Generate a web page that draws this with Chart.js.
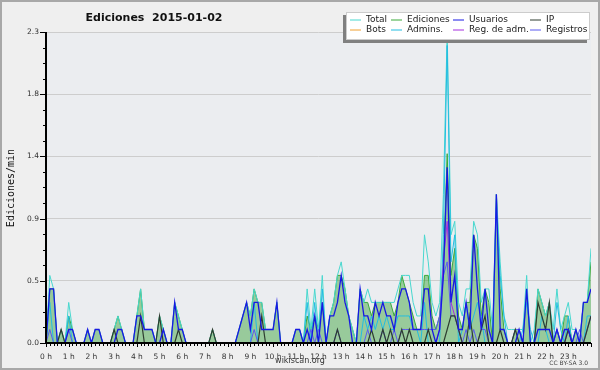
<!DOCTYPE html>
<html>
<head>
<meta charset="utf-8">
<style>
  html, body { margin: 0; padding: 0; background: #efefef; }
  canvas { display: block; }
</style>
<script src="https://cdn.jsdelivr.net/npm/chart.js@4.4.1/dist/chart.umd.min.js"></script>
</head>
<body>
<canvas id="chartEdits" width="600" height="370"></canvas>
<script>
// 10-minute slots over the day, 0 = 00:00 ... 144 = 24:00
const slots = Array.from({ length: 145 }, (_, i) => i);
const hourLabels = ["0 h", "1 h", "2 h", "3 h", "4 h", "5 h", "6 h", "7 h", "8 h", "9 h", "10 h", "11 h",
    "12 h", "13 h", "14 h", "15 h", "16 h", "17 h", "18 h", "19 h", "20 h", "21 h", "22 h", "23 h"];
const yTickValues = [0, 0.46, 0.92, 1.38, 1.84, 2.3];
const yTickLabels = ["0.0", "0.5", "0.9", "1.4", "1.8", "2.3"];

// edits per minute, one row = two hours
const total = [
    0, .5, .4, 0, .1, 0, .3, .1, 0, 0, 0, .1,
    0, .1, .1, 0, 0, 0, .1, .2, .1, 0, 0, 0,
    .2, .4, .1, .1, .1, 0, .2, .1, 0, 0, .3, .2,
    .1, 0, 0, 0, 0, 0, 0, 0, .1, 0, 0, 0,
    0, 0, 0, .1, .2, .3, .2, .4, .3, .3, .1, .1,
    .1, .3, 0, 0, 0, 0, .1, .1, 0, .4, .1, .4,
    .1, .5, 0, .2, .3, .5, .6, .4, .2, .1, 0, .4,
    .3, .4, .3, .3, .3, .3, .3, .3, .3, .4, .5, .5,
    .5, .3, .2, .2, .8, .6, .3, .2, .3, 1.1, 2.3, .8,
    .9, .3, .2, .4, .4, .9, .8, .3, .4, .4, .1, 1.1,
    .6, .2, .1, .1, .1, .1, .1, .5, 0, .1, .4, .3,
    .2, .3, .1, .4, .1, .2, .3, .1, .1, 0, .3, .3,
    .7
];
const edits = [
    0, .4, .4, 0, .1, 0, .2, .1, 0, 0, 0, .1,
    0, .1, .1, 0, 0, 0, .1, .2, .1, 0, 0, 0,
    .2, .4, .1, .1, .1, 0, .2, .1, 0, 0, .3, .2,
    .1, 0, 0, 0, 0, 0, 0, 0, .1, 0, 0, 0,
    0, 0, 0, .1, .2, .3, .2, .4, .3, .3, .1, .1,
    .1, .3, 0, 0, 0, 0, .1, .1, 0, .2, .1, .2,
    .1, .3, 0, .2, .3, .5, .5, .4, .2, .1, 0, .4,
    .3, .3, .2, .3, .3, .3, .3, .3, .2, .3, .5, .4,
    .3, .2, .1, .1, .5, .5, .2, .1, .2, .6, 1.4, .5,
    .7, .2, .1, .3, .3, .8, .7, .2, .4, .3, 0, 1.1,
    .4, .1, 0, 0, .1, .1, 0, .4, 0, 0, .4, .3,
    .2, .3, 0, .1, 0, .2, .2, 0, .1, 0, .3, .3,
    .6
];
const users = [
    0, .4, .4, 0, 0, 0, .1, .1, 0, 0, 0, .1,
    0, .1, .1, 0, 0, 0, 0, .1, .1, 0, 0, 0,
    .2, .2, .1, .1, .1, 0, 0, .1, 0, 0, .3, .1,
    .1, 0, 0, 0, 0, 0, 0, 0, 0, 0, 0, 0,
    0, 0, 0, .1, .2, .3, .1, .3, .3, .1, .1, .1,
    .1, .3, 0, 0, 0, 0, .1, .1, 0, .1, 0, .2,
    0, .3, 0, .2, .2, .3, .5, .3, .2, 0, 0, .4,
    .2, .2, .1, .3, .2, .3, .2, .2, .1, .3, .4, .4,
    .3, .1, .1, .1, .4, .4, .1, 0, .1, .5, 1.3, .3,
    .5, .1, .1, .3, .1, .8, .4, .1, .4, .1, 0, 1.1,
    .1, .1, 0, 0, 0, .1, 0, .4, 0, 0, .1, .1,
    .1, .1, 0, .1, 0, .1, .1, 0, .1, 0, .3, .3,
    .4
];
const ip = [
    0, 0, 0, 0, .1, 0, 0, 0, 0, 0, 0, 0,
    0, 0, 0, 0, 0, 0, .1, 0, 0, 0, 0, 0,
    0, .2, 0, 0, 0, 0, .2, 0, 0, 0, 0, .1,
    0, 0, 0, 0, 0, 0, 0, 0, .1, 0, 0, 0,
    0, 0, 0, 0, 0, 0, 0, 0, 0, .2, 0, 0,
    0, 0, 0, 0, 0, 0, 0, 0, 0, 0, 0, 0,
    0, 0, 0, 0, 0, .1, 0, 0, 0, 0, 0, 0,
    0, 0, .1, 0, 0, .1, 0, .1, 0, 0, .1, 0,
    .1, 0, 0, 0, 0, .1, 0, 0, 0, 0, .1, .2,
    .2, .1, 0, 0, .2, 0, 0, .1, .2, 0, 0, 0,
    .1, 0, 0, 0, .1, 0, 0, 0, 0, 0, .3, .2,
    .1, .3, 0, 0, 0, 0, .1, 0, 0, 0, 0, .1,
    .2
];
const bots = [
    0, 0, 0, 0, 0, 0, 0, 0, 0, 0, 0, 0,
    0, 0, 0, 0, 0, 0, 0, 0, 0, 0, 0, 0,
    0, 0, 0, 0, 0, 0, 0, 0, 0, 0, 0, 0,
    0, 0, 0, 0, 0, 0, 0, 0, 0, 0, 0, 0,
    0, 0, 0, 0, 0, 0, 0, 0, 0, 0, 0, 0,
    0, 0, 0, 0, 0, 0, 0, 0, 0, 0, 0, 0,
    0, 0, 0, 0, 0, 0, 0, 0, 0, 0, 0, 0,
    0, 0, 0, 0, 0, 0, 0, 0, 0, 0, 0, 0,
    0, 0, 0, 0, 0, 0, 0, 0, 0, 0, 0, 0,
    0, 0, 0, 0, 0, 0, 0, 0, 0, 0, 0, 0,
    0, 0, 0, 0, 0, 0, 0, 0, 0, 0, 0, 0,
    0, 0, 0, 0, 0, 0, 0, 0, 0, 0, 0, 0,
    0
];
const admins = [
    0, .3, 0, 0, 0, 0, .2, 0, 0, 0, 0, 0,
    0, 0, 0, 0, 0, 0, 0, 0, 0, 0, 0, 0,
    0, 0, 0, 0, 0, 0, 0, 0, 0, 0, 0, 0,
    0, 0, 0, 0, 0, 0, 0, 0, 0, 0, 0, 0,
    0, 0, 0, 0, 0, 0, 0, .3, 0, 0, 0, 0,
    0, 0, 0, 0, 0, 0, 0, 0, 0, .3, 0, .3,
    0, .4, 0, 0, 0, 0, 0, 0, 0, 0, 0, 0,
    .2, .1, .2, .1, .2, .1, .2, .1, .1, .2, .2, .2,
    .2, .1, .1, 0, .3, 0, 0, 0, 0, .8, 2.2, .6,
    .8, 0, .1, .3, .1, .2, .3, .2, 0, 0, 0, 1.0,
    .5, .2, 0, 0, 0, 0, .1, .3, .1, 0, 0, .2,
    .1, 0, 0, .3, .1, 0, .2, 0, 0, 0, 0, .2,
    .2
];
const adminLogs = [
    0, 0, 0, 0, 0, 0, 0, 0, 0, 0, 0, 0,
    0, 0, 0, 0, 0, 0, 0, 0, 0, 0, 0, 0,
    0, 0, 0, 0, 0, 0, 0, 0, 0, 0, 0, 0,
    0, 0, 0, 0, 0, 0, 0, 0, 0, 0, 0, 0,
    0, 0, 0, 0, 0, 0, 0, 0, 0, 0, 0, 0,
    0, 0, 0, 0, 0, 0, 0, 0, 0, 0, 0, 0,
    0, 0, 0, 0, 0, 0, 0, 0, 0, 0, 0, 0,
    0, 0, 0, 0, 0, 0, 0, 0, 0, 0, 0, 0,
    0, 0, 0, 0, 0, 0, 0, 0, .1, .6, .9, .3,
    .2, .1, 0, 0, 0, 0, 0, 0, 0, 0, 0, 0,
    0, 0, 0, 0, 0, 0, 0, 0, 0, 0, 0, 0,
    0, 0, 0, 0, 0, 0, .1, 0, 0, 0, 0, 0,
    0
];
const logs = [
    0, .1, 0, 0, 0, 0, .1, 0, 0, 0, 0, 0,
    0, 0, 0, 0, 0, 0, 0, 0, 0, 0, 0, 0,
    0, 0, 0, 0, 0, 0, 0, 0, 0, 0, 0, 0,
    0, 0, 0, 0, 0, 0, 0, 0, 0, 0, 0, 0,
    0, 0, 0, 0, 0, 0, 0, .1, 0, 0, 0, 0,
    0, 0, 0, 0, 0, 0, 0, 0, 0, 0, .1, 0,
    .1, 0, 0, 0, 0, .1, 0, 0, 0, 0, 0, 0,
    0, .1, 0, 0, 0, .1, 0, 0, .1, 0, .1, .1,
    .1, .1, .1, .1, .1, .1, .1, .1, .2, .5, .6, .2,
    .2, .1, 0, .1, 0, .1, 0, .1, .1, 0, 0, 0,
    0, 0, 0, 0, .1, .1, 0, 0, 0, 0, 0, 0,
    0, 0, 0, .1, 0, .1, .1, 0, 0, .1, 0, .1,
    .2
];

function serie(label, values, color, order, extra) {
    return Object.assign({
        label: label,
        data: values,
        borderColor: color,
        backgroundColor: color,
        borderWidth: 1,
        pointRadius: 0,
        tension: 0,
        fill: false,
        order: order,
    }, extra || {});
}

// legend order; "order" decides what is drawn on top (lower = on top)
const datasets = [
    serie("Total", total, "#48d8cf", 8),
    serie("Ediciones", edits, "#3aaa3a", 10, { fill: "origin", backgroundColor: "rgba(52,160,52,0.45)" }),
    serie("Usuarios", users, "#1818e4", 2, { borderWidth: 1.3 }),
    serie("IP", ip, "#2e3d31", 3, { borderWidth: 1.2 }),
    serie("Bots", bots, "#f0a030", 9),
    serie("Admins.", admins, "#22bde2", 7),
    serie("Reg. de adm.", adminLogs, "#a52ee0", 5),
    serie("Registros", logs, "#5a5af0", 4),
];

const frame = {
    id: "frame",
    beforeDraw(chart) {
        const { ctx, chartArea: a } = chart;
        ctx.save();
        ctx.fillStyle = "#efefef";
        ctx.fillRect(0, 0, chart.width, chart.height);
        ctx.fillStyle = "#ebedf0";
        ctx.fillRect(a.left, a.top, a.right - a.left, a.bottom - a.top);
        ctx.strokeStyle = "#a8a8a8";
        ctx.lineWidth = 2;
        ctx.strokeRect(1, 1, chart.width - 2, chart.height - 2);
        ctx.restore();
    },
    afterDatasetsDraw(chart) {
        const { ctx, chartArea: a, scales: { x, y } } = chart;
        const ax = Math.round(a.left);
        const ay = Math.round(y.getPixelForValue(0));
        ctx.save();
        ctx.strokeStyle = "#000";
        // tick marks
        ctx.lineWidth = 1;
        ctx.beginPath();
        for (let k = 0; k <= 20; k++) {
            const py = Math.round(y.getPixelForValue(k * 0.115)) + 0.5;
            ctx.moveTo(ax - (k % 4 === 0 ? 6 : 3), py);
            ctx.lineTo(ax, py);
        }
        slots.forEach(function (s) {
            const px = Math.round(x.getPixelForValue(s)) + 0.5;
            ctx.moveTo(px, ay);
            ctx.lineTo(px, ay + (s % 6 === 0 ? 4 : 3));
        });
        ctx.stroke();
        // axis lines
        ctx.lineWidth = 2;
        ctx.beginPath();
        ctx.moveTo(ax, a.top);
        ctx.lineTo(ax, ay);
        ctx.lineTo(Math.round(a.right), ay);
        ctx.stroke();
        ctx.restore();
    },
    afterDraw(chart) {
        const ctx = chart.ctx;
        ctx.save();
        ctx.fillStyle = "#111";
        ctx.textAlign = "center";
        ctx.textBaseline = "alphabetic";
        ctx.font = "bold 11px 'DejaVu Sans'";
        ctx.fillText("Ediciones  2015-01-02", 154, 21);

        ctx.font = "8px 'DejaVu Sans'";
        ctx.fillStyle = "#333";
        ctx.fillText("wikiscan.org", 300, 363);
        ctx.textAlign = "right";
        ctx.font = "6px 'DejaVu Sans'";
        ctx.fillStyle = "#444";
        ctx.fillText("CC BY-SA 3.0", 588, 365);

        // y axis title
        ctx.save();
        ctx.translate(11, 188);
        ctx.rotate(-Math.PI / 2);
        ctx.textAlign = "center";
        ctx.textBaseline = "middle";
        ctx.font = "10px 'DejaVu Sans Mono'";
        ctx.fillStyle = "#111";
        ctx.fillText("Ediciones/min", 0, 0);
        ctx.restore();

        // legend box with shadow
        ctx.fillStyle = "#808080";
        ctx.fillRect(343, 15, 244, 28);
        ctx.fillStyle = "#ffffff";
        ctx.fillRect(346, 12, 244, 28);
        ctx.strokeStyle = "#cccccc";
        ctx.lineWidth = 1;
        ctx.strokeRect(346.5, 12.5, 243, 27);
        const cols = [350, 391, 453, 530];
        const rows = [19.5, 29.5];
        ctx.font = "9px 'DejaVu Sans'";
        ctx.textAlign = "left";
        ctx.textBaseline = "middle";
        chart.data.datasets.forEach(function (ds, i) {
            const cx = cols[i % 4], cy = rows[Math.floor(i / 4)];
            ctx.strokeStyle = ds.borderColor;
            ctx.beginPath();
            ctx.moveTo(cx, cy + 0.5);
            ctx.lineTo(cx + 11, cy + 0.5);
            ctx.stroke();
            ctx.fillStyle = "#222";
            ctx.fillText(ds.label, cx + 16, cy + 0.5);
        });
        ctx.restore();
    }
};

const tickFont = { family: "DejaVu Sans", size: 7.5 };

new Chart(document.getElementById("chartEdits"), {
    type: "line",
    data: { labels: slots, datasets: datasets },
    options: {
        responsive: false,
        animation: false,
        devicePixelRatio: 1,
        layout: { padding: { left: 0, right: 9, top: 32, bottom: 0 } },
        plugins: {
            legend: { display: false },
            title: { display: false },
            tooltip: { enabled: false },
        },
        scales: {
            x: {
                type: "linear",
                min: 0,
                max: 144,
                afterBuildTicks: function (s) { s.ticks = hourLabels.map((_, h) => ({ value: h * 6 })); },
                afterFit: function (s) { s.height = 27; },
                grid: { display: false },
                border: { display: false },
                ticks: {
                    autoSkip: false,
                    maxRotation: 0,
                    padding: 2,
                    color: "#333",
                    font: tickFont,
                    callback: (v, i) => hourLabels[i],
                },
            },
            y: {
                min: 0,
                max: 2.3,
                afterBuildTicks: function (s) { s.ticks = yTickValues.map(v => ({ value: v })); },
                afterFit: function (s) { s.width = 46; },
                grid: { color: "#cdcdcd", drawTicks: false },
                border: { display: false },
                ticks: {
                    padding: 7,
                    color: "#333",
                    font: tickFont,
                    callback: (v, i) => yTickLabels[i],
                },
            },
        },
    },
    plugins: [frame],
});
</script>
</body>
</html>
